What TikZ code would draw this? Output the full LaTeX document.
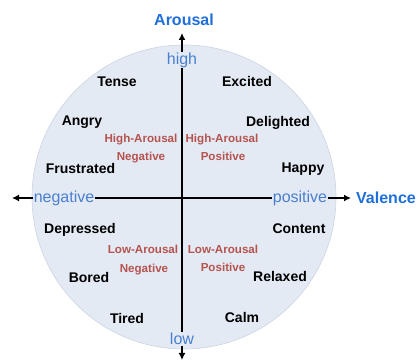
\documentclass[tikz,border=0pt]{standalone}
\usepackage{fontspec}
\setmainfont{Liberation Sans}
\usetikzlibrary{arrows.meta}
\definecolor{circfill}{HTML}{E4EAF4}
\definecolor{circedge}{HTML}{CBD4E3}
\definecolor{axisblue}{HTML}{1F6FDB}
\definecolor{poleblue}{HTML}{4A7FD0}
\definecolor{quadred}{HTML}{B5534F}
\tikzset{
  emo/.style={font=\bfseries\fontsize{14}{16}\selectfont, text=black, inner sep=0pt, anchor=base},
  quad/.style={font=\bfseries\fontsize{11.6}{13}\selectfont, text=quadred, inner sep=0pt, anchor=base},
  axlabel/.style={font=\bfseries\fontsize{16}{18}\selectfont, text=axisblue, inner sep=0pt},
  pole/.style={font=\fontsize{16}{18}\selectfont, text=poleblue, inner sep=1pt, fill=circfill},
  axis/.style={line width=1.6pt, -{Latex[length=7pt,width=7pt]}}
}
\begin{document}
\begin{tikzpicture}[x=1pt,y=-1pt]
\useasboundingbox (0,0) rectangle (416,363);
\fill[circfill, draw=circedge, line width=0.6pt] (184,197) circle (152);
\coordinate (c) at (182,198);
\coordinate (top) at (182,33);
\coordinate (bot) at (182,360);
\coordinate (lft) at (12,198);
\coordinate (rgt) at (351,198);
\draw[axis] (c) -- (top);
\draw[axis] (c) -- (bot);
\draw[axis] (c) -- (lft);
\draw[axis] (c) -- (rgt);
\node[pole] (high) at (182,60) {high};
\node[pole] (low) at (182,339) {low};
\node[pole] (neg) at (64,198) {negative};
\node[pole] (pos) at (300,198) {positive};
\node[axlabel] (arousal) at (184,20) {Arousal};
\node[axlabel] (valence) at (386,198) {Valence};
\node[emo] (tense) at (117,87) {Tense};
\node[emo] (excited) at (247,87) {Excited};
\node[emo] (angry) at (82,126) {Angry};
\node[emo] (delighted) at (278,127) {Delighted};
\node[emo] (frustrated) at (80.5,174) {Frustrated};
\node[emo] (happy) at (303,173) {Happy};
\node[emo] (depressed) at (80,234) {Depressed};
\node[emo] (content) at (299,234) {Content};
\node[emo] (bored) at (89,283) {Bored};
\node[emo] (relaxed) at (280,282) {Relaxed};
\node[emo] (tired) at (127,324) {Tired};
\node[emo] (calm) at (242,323) {Calm};
\node[quad] (hn1) at (141,143) {High-Arousal};
\node[quad] (hn2) at (141,161) {Negative};
\node[quad] (hp1) at (222,143) {High-Arousal};
\node[quad] (hp2) at (223,161) {Positive};
\node[quad] (ln1) at (143,254) {Low-Arousal};
\node[quad] (ln2) at (144,273) {Negative};
\node[quad] (lp1) at (223,254) {Low-Arousal};
\node[quad] (lp2) at (223,272) {Positive};
\end{tikzpicture}
\end{document}
